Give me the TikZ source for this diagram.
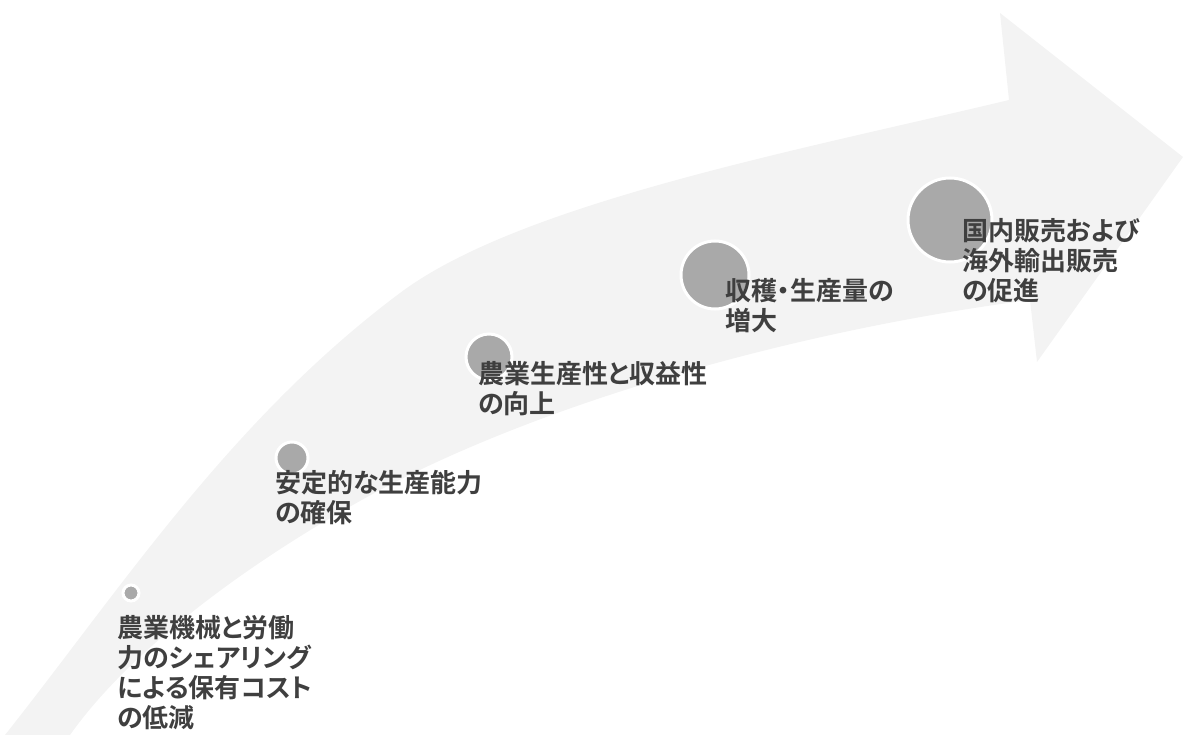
\documentclass[tikz,border=0pt]{standalone}
\usepackage{fontspec}
\usepackage{xcolor}
\newfontfamily\jpfont[RawFeature=+palt,BoldFont={Noto Sans CJK JP Bold}]{Noto Sans CJK JP}
\definecolor{arrowfill}{HTML}{F3F3F3}
\definecolor{dotgray}{HTML}{A9A9A9}
\definecolor{textgray}{HTML}{3F3F3F}

\begin{document}
\begin{tikzpicture}[x=1pt, y=-1pt,
  dot/.style={circle, fill=dotgray, draw=white, line width=3pt, inner sep=0pt},
  lbl/.style={anchor=north west, align=left, inner sep=0pt, text=textgray,
    font=\jpfont\bfseries\fontsize{26}{30}\selectfont}]
\useasboundingbox (0,0) rectangle (1184,735);
% curved arrow
\fill[arrowfill] (5,735) .. controls (120,590) and (230,420) .. (400,293)
  .. controls (520,203) and (800,150) .. (1009,100)
  -- (1000,13) -- (1183,157) -- (1037,362) -- (1030,300)
  .. controls (800,330) and (550,400) .. (380,490)
  .. controls (250,560) and (130,650) .. (70,735) -- cycle;
% steps
\node[dot, minimum size=16pt] (dot1) at (131,593) {};
\node[dot, minimum size=32pt] (dot2) at (292,458) {};
\node[dot, minimum size=46pt] (dot3) at (489,357) {};
\node[dot, minimum size=68pt] (dot4) at (715,275) {};
\node[dot, minimum size=84pt] (dot5) at (950,220) {};
\node[lbl] (txt1) at (117,615) {農業機械と労働\\力のシェアリング\\による保有コスト\\の低減};
\node[lbl] (txt2) at (275,470) {安定的な生産能力\\の確保};
\node[lbl] (txt3) at (478,361) {農業生産性と収益性\\の向上};
\node[lbl] (txt4) at (725,278) {収穫・生産量の\\増大};
\node[lbl] (txt5) at (962,218) {国内販売および\\海外輸出販売\\の促進};
\end{tikzpicture}
\end{document}
